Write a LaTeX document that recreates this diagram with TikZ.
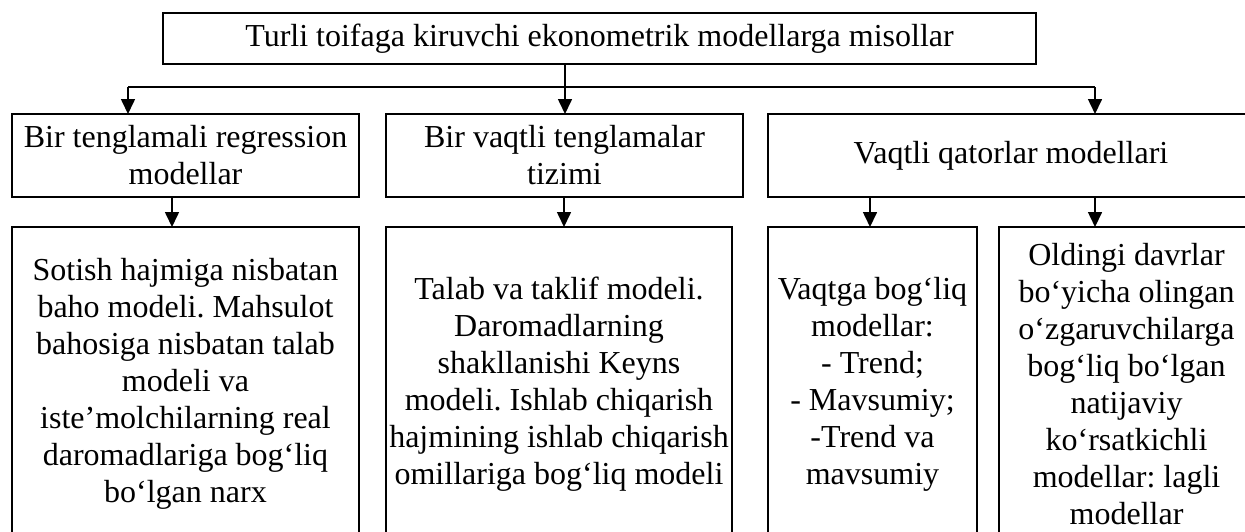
\documentclass[tikz,border=0pt]{standalone}
\usepackage{fontspec}
\setmainfont{Liberation Serif}
\usetikzlibrary{arrows.meta}
\frenchspacing
\begin{document}
\begin{tikzpicture}[x=0.5pt,y=-0.5pt,
  box/.style={draw,line width=0.8pt,inner sep=0pt,outer sep=0pt,align=center,
    font=\fontsize{16}{18.5}\selectfont},
  arr/.style={line width=0.8pt,-{Triangle[length=7.5pt,width=7pt]}},
  ln/.style={line width=0.8pt}]
\useasboundingbox (0,0) rectangle (1245,531);
\node[box,minimum width=436.5pt,minimum height=25.5pt] (b0) at (599.5,38.5) {Turli toifaga kiruvchi ekonometrik modellarga misollar};
\node[box,minimum width=173.5pt,minimum height=41.5pt] (b1) at (185.5,155.5) {Bir tenglamali regression\\modellar};
\node[box,minimum width=178.5pt,minimum height=41.5pt] (b2) at (564.5,155.5) {Bir vaqtli tenglamalar\\tizimi};
\node[box,minimum width=243pt,minimum height=41.5pt] (b3) at (1011,155.5) {Vaqtli qatorlar modellari};
\node[box,minimum width=173.5pt,minimum height=157pt] (c1) at (185.5,384) {Sotish hajmiga nisbatan\\baho modeli. Mahsulot\\bahosiga nisbatan talab\\modeli va\\iste’molchilarning real\\daromadlariga bog‘liq\\bo‘lgan narx};
\node[box,minimum width=173pt,minimum height=157pt] (c2) at (559,384) {Talab va taklif modeli.\\Daromadlarning\\shakllanishi Keyns\\modeli. Ishlab chiqarish\\hajmining ishlab chiqarish\\omillariga bog‘liq modeli};
\node[box,minimum width=104.5pt,minimum height=157pt] (c3) at (872.5,384) {Vaqtga bog‘liq\\modellar:\\- Trend;\\- Mavsumiy;\\-Trend va\\mavsumiy};
\node[box,minimum width=127.5pt,minimum height=157pt] (c4) at (1126.5,384) {Oldingi davrlar\\bo‘yicha olingan\\o‘zgaruvchilarga\\bog‘liq bo‘lgan\\natijaviy\\ko‘rsatkichli\\modellar: lagli\\modellar};
% top level connectors
\coordinate (jl) at (128,87);
\coordinate (jr) at (1095,87);
\coordinate (jm) at (565,87);
\draw[ln] (jl) -- (jr);
\draw[arr] (jm |- b0.south) -- (jm |- b2.north);
\draw[arr] (jl) -- (jl |- b1.north);
\draw[arr] (jr) -- (jr |- b3.north);
% second level connectors
\coordinate (k1) at (172,197);
\coordinate (k2) at (564,197);
\coordinate (k3) at (870,197);
\coordinate (k4) at (1095,197);
\draw[arr] (k1 |- b1.south) -- (k1 |- c1.north);
\draw[arr] (k2 |- b2.south) -- (k2 |- c2.north);
\draw[arr] (k3 |- b3.south) -- (k3 |- c3.north);
\draw[arr] (k4 |- b3.south) -- (k4 |- c4.north);
\end{tikzpicture}
\end{document}
